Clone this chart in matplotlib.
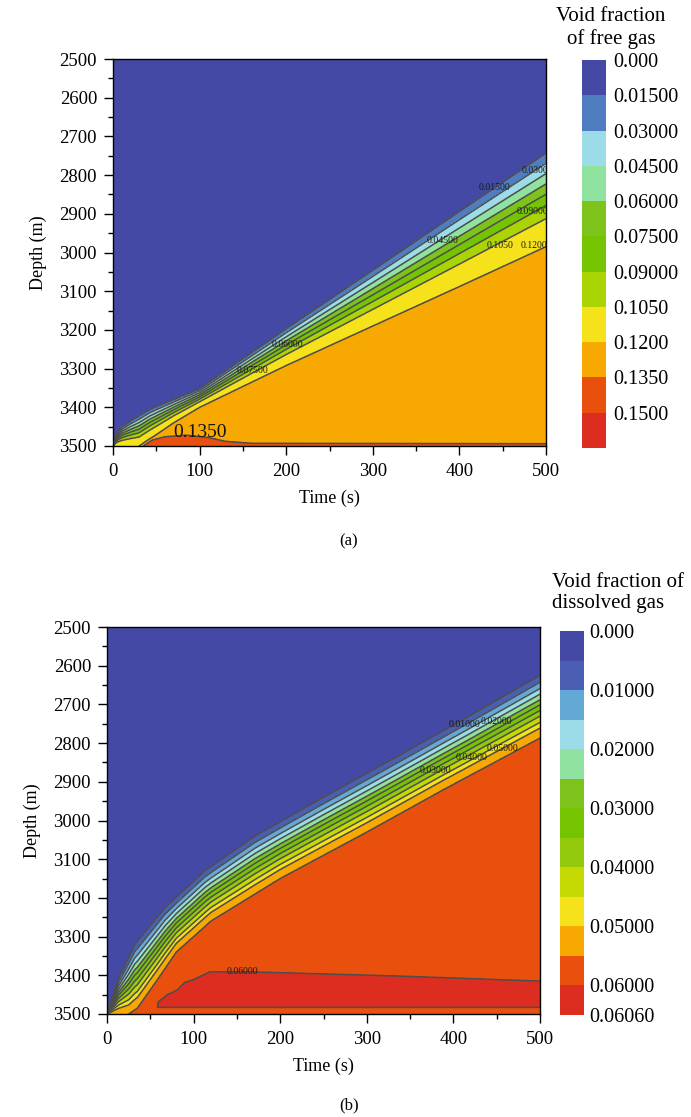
import numpy as np
import matplotlib
matplotlib.use('Agg')
import matplotlib.pyplot as plt
from matplotlib.colors import ListedColormap, BoundaryNorm
from matplotlib.cm import ScalarMappable
from matplotlib.ticker import MultipleLocator

plt.rcParams['font.family'] = ['Liberation Serif', 'DejaVu Serif']

# ---------------- (a) free gas ----------------
levels_a = [0.0, 0.015, 0.03, 0.045, 0.06, 0.075, 0.09, 0.105, 0.12, 0.135, 0.15, 0.165]
colors_a = ['#4349a4', '#4f7dc0', '#9bdce8', '#8fe29f', '#7ec31c', '#74c401',
            '#abd404', '#f6e21a', '#f7a901', '#e9500e', '#dc2d20']

# depth of the leading (0.015) and trailing (0.12) contour vs time
t_top_a = [0, 2, 5, 10, 20, 43, 100, 200, 300, 400, 500]
z_top_a = [3500, 3482, 3466, 3452, 3436, 3405, 3352, 3197, 3046, 2894, 2743]
t_bot_a = [0, 30, 45, 70, 100, 200, 300, 400, 500]
z_bot_a = [3500, 3500, 3478, 3440, 3400, 3292, 3190, 3088, 2985]
front_levels_a = [0.015, 0.03, 0.045, 0.06, 0.075, 0.09, 0.105, 0.12]
front_frac_a = [0.0, 0.11, 0.22, 0.33, 0.44, 0.56, 0.70, 1.0]
plateau_a = 0.125

# 0.135 contour of the patch near the bottom
t_patch_a = [0, 25, 35, 45, 60, 85, 110, 130, 160, 500]
z_patch_a = [3560, 3540, 3500, 3485, 3476, 3472, 3478, 3488, 3493, 3494]

label_levels_a = [0.03, 0.015, 0.09, 0.045, 0.105, 0.12, 0.06, 0.075]
label_t_a = [490, 441, 484, 381, 447, 486, 201, 161]
label_z_a = [2789, 2831, 2895, 2968, 2983, 2983, 3239, 3304]
big_label_a = (0.135, 100, 3466)

# ---------------- (b) dissolved gas ----------------
levels_b = [0.0, 0.005, 0.01, 0.015, 0.02, 0.025, 0.03, 0.035, 0.04, 0.045,
            0.05, 0.055, 0.06, 0.0606]
colors_b = ['#4349a4', '#4a5fb3', '#64a8d6', '#9bdce8', '#8fe29f', '#7ec31c',
            '#74c401', '#93cb0c', '#c4da02', '#f6e21a', '#f7a901', '#e9500e',
            '#dc2d20']
cbar_ticks_b = [0.0, 0.01, 0.02, 0.03, 0.04, 0.05, 0.06, 0.0606]

t_top_b = [0, 13, 32, 67, 113, 171, 246, 338, 416, 500]
z_top_b = [3500, 3410, 3320, 3225, 3130, 3040, 2945, 2831, 2733, 2625]
t_bot_b = [0, 25, 35, 58, 80, 120, 200, 300, 388, 500]
z_bot_b = [3500, 3500, 3485, 3412, 3340, 3260, 3150, 3030, 2921, 2787]
front_levels_b = [0.005, 0.01, 0.015, 0.02, 0.025, 0.03, 0.035, 0.04, 0.045, 0.05, 0.055]
front_frac_b = [0.0, 0.11, 0.21, 0.30, 0.39, 0.47, 0.56, 0.65, 0.75, 0.84, 1.0]
plateau_b = 0.0575

# upper edge of the 0.06 region, lower edge is flat
t_red_b = [0, 56, 58, 59, 70, 81, 90, 99, 119, 165, 338, 500]
z_red_top_b = [4000, 4000, 3482, 3469, 3450, 3438, 3418, 3412, 3391, 3391, 3402, 3415]
z_red_bot_b = [3000, 3000, 3483, 3483, 3483, 3483, 3483, 3483, 3483, 3483, 3483, 3483]

label_levels_b = [0.01, 0.02, 0.05, 0.04, 0.03, 0.06]
label_t_b = [413, 450, 457, 421, 379, 156]
label_z_b = [2753, 2743, 2813, 2838, 2872, 3391]

t = np.linspace(0, 500, 501)
z = np.linspace(2500, 3500, 1001)
T, Z = np.meshgrid(t, z)


def front_field(t_top, z_top, t_bot, z_bot, lev, frac, plateau):
    top = np.interp(t, t_top, z_top)
    bot = np.interp(t, t_bot, z_bot)
    F = np.zeros_like(T)
    nlev = len(lev)
    for j in range(len(t)):
        zk = top[j] + np.array(frac) * (bot[j] - top[j]) + np.arange(nlev) * 1e-3
        xp = np.concatenate([[zk[0] - 20], zk, [zk[-1] + 15]])
        fp = np.concatenate([[0.0], lev, [plateau]])
        F[:, j] = np.interp(z, xp, fp)
    return F


def fmt(v):
    if v == 0:
        return '0.000'
    return '%.5f' % v if v < 0.1 else '%.4f' % v


Fa = front_field(t_top_a, z_top_a, t_bot_a, z_bot_a, front_levels_a, front_frac_a, plateau_a)
patch = np.minimum(0.135 + 0.002 * (Z - np.interp(T, t_patch_a, z_patch_a)), 0.14)
Fa = np.where(Fa >= 0.12, np.maximum(Fa, patch), Fa)

Fb = front_field(t_top_b, z_top_b, t_bot_b, z_bot_b, front_levels_b, front_frac_b, plateau_b)
g = np.minimum(Z - np.interp(T, t_red_b, z_red_top_b), np.interp(T, t_red_b, z_red_bot_b) - Z)
red = np.minimum(0.06 + 0.0002 * g, 0.0603)
Fb = np.where(Fb >= plateau_b - 1e-9, np.maximum(Fb, red), Fb)

W, H = 691, 1117
fig = plt.figure(figsize=(W / 100, H / 100), dpi=100)


def panel(F, levels, colors, rect, lab_levels, lab_t, lab_z):
    ax = fig.add_axes([rect[0] / W, 1 - rect[3] / H, (rect[2] - rect[0]) / W, (rect[3] - rect[1]) / H])
    ax.contourf(T, Z, F, levels=levels, colors=colors)
    ax.contour(T, Z, F, levels=levels[1:-1], colors='#4d4d4d', linewidths=1.1)
    # contour labels, flat, on top of the lines
    for v, tt, zz in zip(lab_levels, lab_t, lab_z):
        ax.text(tt, zz, fmt(v), fontsize=7, color='#1a1a1a', ha='center', va='center',
                clip_on=True)
    ax.set_xlim(0, 500)
    ax.set_ylim(3500, 2500)
    ax.xaxis.set_major_locator(MultipleLocator(100))
    ax.xaxis.set_minor_locator(MultipleLocator(50))
    ax.yaxis.set_major_locator(MultipleLocator(100))
    ax.yaxis.set_minor_locator(MultipleLocator(50))
    ax.tick_params(which='major', direction='out', length=6.5, width=1, labelsize=13.5)
    ax.tick_params(axis='x', which='major', pad=6)
    ax.tick_params(axis='y', which='major', pad=5)
    ax.tick_params(which='minor', direction='out', length=3.5, width=1)
    ax.set_xlabel('Time (s)', fontsize=13, labelpad=7)
    ax.set_ylabel('Depth (m)', fontsize=13, labelpad=9)
    for s in ax.spines.values():
        s.set_linewidth(1.0)
    return ax


def colorbar(levels, colors, ticks, rect, pad):
    cax = fig.add_axes([rect[0] / W, 1 - rect[3] / H, (rect[2] - rect[0]) / W, (rect[3] - rect[1]) / H])
    cmap = ListedColormap(colors)
    norm = BoundaryNorm(levels, cmap.N)
    cb = fig.colorbar(ScalarMappable(norm=norm, cmap=cmap), cax=cax,
                      spacing='uniform', ticks=ticks)
    cb.ax.minorticks_off()
    cb.ax.set_yticklabels([fmt(v) for v in ticks])
    cb.ax.invert_yaxis()
    cb.outline.set_visible(False)
    cb.ax.tick_params(which='both', length=0, labelsize=14.5, pad=pad)
    return cb


ax_a = panel(Fa, levels_a, colors_a, (113, 59, 546, 446),
             label_levels_a, label_t_a, label_z_a)
# the bottom patch label is printed large
ax_a.text(big_label_a[1], big_label_a[2], fmt(big_label_a[0]), fontsize=14,
          color='#111111', ha='center', va='center')
colorbar(levels_a, colors_a, levels_a[:-1], (582, 60, 606, 448), 5)
fig.text(611 / W, 1 - 28 / H, 'Void fraction\nof free gas', ha='center', va='center',
         fontsize=15, linespacing=1.2)
fig.text(349 / W, 1 - 541 / H, '(a)', ha='center', va='center', fontsize=12)

ax_b = panel(Fb, levels_b, colors_b, (107, 627, 540, 1014),
             label_levels_b, label_t_b, label_z_b)
colorbar(levels_b, colors_b, cbar_ticks_b, (560, 631, 584, 1015), 4)
fig.text(552 / W, 1 - 593 / H, 'Void fraction of\ndissolved gas', ha='left', va='center',
         fontsize=15, linespacing=1.2)
fig.text(349 / W, 1 - 1105 / H, '(b)', ha='center', va='center', fontsize=12)

fig.savefig('out.png', dpi=100)
